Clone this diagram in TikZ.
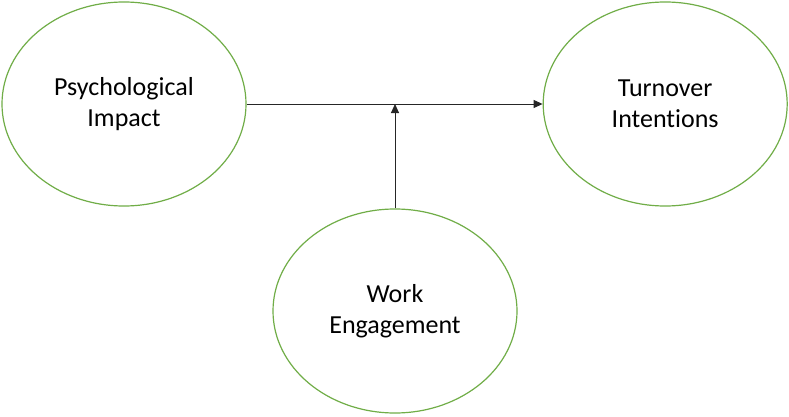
\documentclass[tikz,border=0pt]{standalone}
\usepackage{fontspec}
\setmainfont[Ligatures=CommonOff]{Carlito}
\usepackage{xcolor}
\usetikzlibrary{positioning,arrows.meta,shapes.geometric,calc}

\definecolor{officegreen}{RGB}{112,173,71}

\begin{document}
\begin{tikzpicture}[
    x=1pt, y=1pt,
    construct/.style={ellipse, draw=officegreen, line width=1.2pt, fill=white, minimum width=244pt, minimum height=204pt, inner sep=0pt, align=center, font=\fontsize{26}{31}\selectfont},
    arr/.style={-{Triangle[length=9pt,width=8pt]}, line width=0.9pt, draw=black!85},
]
\useasboundingbox (0,0) rectangle (789,416);
\node[construct] (psych) at (124,312) {Psychological\\Impact};
\node[construct, right=296pt of psych] (turnover) {Turnover\\Intentions};
\node[construct] (work) at (395,105) {Work\\Engagement};
\coordinate (mid) at (work.north |- psych.east);

\draw[arr] (psych) -- (turnover);
\draw[arr] (work) -- (mid);
\end{tikzpicture}
\end{document}
